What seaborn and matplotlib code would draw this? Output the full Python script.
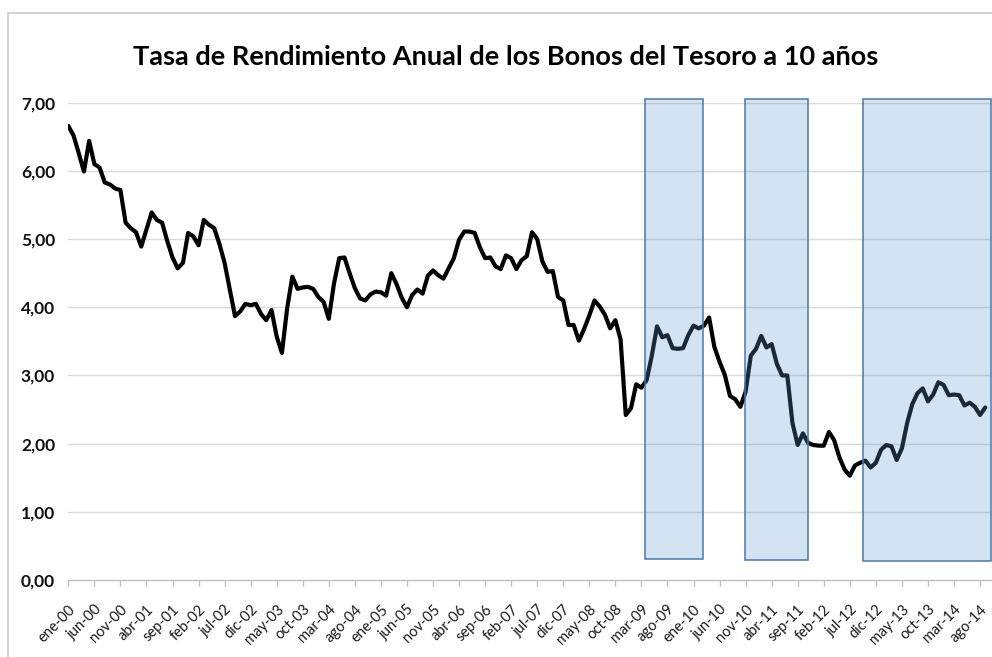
import numpy as np
import pandas as pd
import matplotlib
matplotlib.use("Agg")
import matplotlib.pyplot as plt
import seaborn as sns
from matplotlib.patches import Rectangle
from matplotlib.lines import Line2D

# 10-year Treasury yield, monthly, ene-2000 .. sep-2014
yields = [
    6.66, 6.52, 6.26, 5.99, 6.44, 6.10, 6.05, 5.83, 5.80, 5.74, 5.72, 5.24,  # 2000
    5.16, 5.10, 4.89, 5.14, 5.39, 5.28, 5.24, 4.97, 4.73, 4.57, 4.65, 5.09,  # 2001
    5.04, 4.91, 5.28, 5.21, 5.16, 4.93, 4.65, 4.26, 3.87, 3.94, 4.05, 4.03,  # 2002
    4.05, 3.90, 3.81, 3.96, 3.57, 3.33, 3.98, 4.45, 4.27, 4.29, 4.30, 4.27,  # 2003
    4.15, 4.08, 3.83, 4.35, 4.72, 4.73, 4.50, 4.28, 4.13, 4.10, 4.19, 4.23,  # 2004
    4.22, 4.17, 4.50, 4.34, 4.14, 4.00, 4.18, 4.26, 4.20, 4.46, 4.54, 4.47,  # 2005
    4.42, 4.57, 4.72, 4.99, 5.11, 5.11, 5.09, 4.88, 4.72, 4.73, 4.60, 4.56,  # 2006
    4.76, 4.72, 4.56, 4.69, 4.75, 5.10, 5.00, 4.67, 4.52, 4.53, 4.15, 4.10,  # 2007
    3.74, 3.74, 3.51, 3.68, 3.88, 4.10, 4.01, 3.89, 3.69, 3.81, 3.53, 2.42,  # 2008
    2.52, 2.87, 2.82, 2.93, 3.29, 3.72, 3.56, 3.59, 3.40, 3.39, 3.40, 3.59,  # 2009
    3.73, 3.69, 3.73, 3.85, 3.42, 3.20, 3.01, 2.70, 2.65, 2.54, 2.76, 3.29,  # 2010
    3.39, 3.58, 3.41, 3.46, 3.17, 3.00, 3.00, 2.30, 1.98, 2.15, 2.01, 1.98,  # 2011
    1.97, 1.97, 2.17, 2.05, 1.80, 1.62, 1.53, 1.68, 1.72, 1.75, 1.65, 1.72,  # 2012
    1.91, 1.98, 1.96, 1.76, 1.93, 2.30, 2.58, 2.74, 2.81, 2.62, 2.72, 2.90,  # 2013
    2.86, 2.71, 2.72, 2.71, 2.56, 2.60, 2.54, 2.42, 2.53,                    # 2014
]

month_abbr = ["ene", "feb", "mar", "abr", "may", "jun",
              "jul", "ago", "sep", "oct", "nov", "dic"]
first_year = 2000

# shaded periods, in months from ene-00 (start, end)
periods = [(110.6, 121.9), (129.9, 142.0), (152.6, 177.1)]
period_top = 7.06
period_bottom = [0.31, 0.29, 0.28]

months = np.arange(len(yields))
labels = [f"{month_abbr[m % 12]}-{(first_year + m // 12) % 100:02d}" for m in months]
df = pd.DataFrame({"mes": months, "rendimiento": yields})

sns.set_theme(style="white")
plt.rcParams["font.family"] = ["Lato", "DejaVu Sans"]

fig = plt.figure(figsize=(9.92, 6.57), dpi=100)
ax = fig.add_axes([68.3 / 992, 77 / 657, (992 - 68.3) / 992, (580 - 102.7) / 657])

for y in range(1, 8):
    ax.axhline(y, color="#d9d9d9", lw=1.0, zorder=1)

sns.lineplot(data=df, x="mes", y="rendimiento", color="black", lw=3.0, ax=ax, zorder=3)

for (x0, x1), yb in zip(periods, period_bottom):
    ax.add_patch(Rectangle((x0, yb), x1 - x0, period_top - yb,
                           facecolor=(95 / 255, 153 / 255, 211 / 255, 0.275),
                           edgecolor="#4a78aa", lw=1.1, zorder=4, clip_on=False))

ax.set_xlim(0, (992 - 68.3) / 5.21)
ax.set_ylim(0, 7)
ax.set_xlabel("")
ax.set_ylabel("")

ax.set_yticks(range(0, 8))
ax.set_yticklabels([f"{v},00" for v in range(0, 8)], fontsize=12.5, fontweight="bold", color="#111111")
ax.tick_params(axis="y", length=0, pad=9.5)

ax.set_xticks(months[::5])
ax.set_xticklabels(labels[::5], rotation=45, ha="right", rotation_mode="anchor",
                   fontsize=10.5, color="#1a1a1a")
ax.tick_params(axis="x", direction="out", length=4, width=1, color="#bfbfbf", pad=12, bottom=True)

for side in ["left", "top", "right"]:
    ax.spines[side].set_visible(False)
ax.spines["bottom"].set_color("#bfbfbf")
ax.spines["bottom"].set_linewidth(1.0)
ax.spines["bottom"].set_zorder(2)

fig.text(0.51, 1 - 57 / 657, "Tasa de Rendimiento Anual de los Bonos del Tesoro a 10 años",
         ha="center", va="center", fontsize=19.5, fontweight="bold", color="black")

# chart area border (cut off at right and bottom)
fig.add_artist(Line2D([8 / 992, 1.0], [1 - 13 / 657, 1 - 13 / 657], color="#d0d0d0", lw=1.3))
fig.add_artist(Line2D([8 / 992, 8 / 992], [0.0, 1 - 13 / 657], color="#d0d0d0", lw=1.3))

fig.savefig("out.png", dpi=100)
